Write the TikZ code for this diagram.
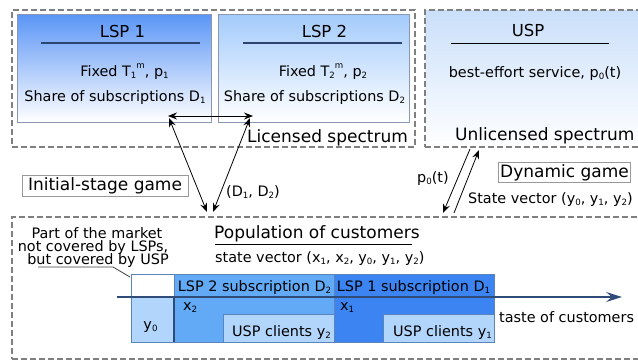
\documentclass[tikz,border=0pt]{standalone}
\usepackage{fontspec}
\setmainfont{DejaVu Sans}
\usetikzlibrary{arrows.meta}
\definecolor{dashgray}{HTML}{808080}
\definecolor{boxborder}{HTML}{8A96B2}
\definecolor{lspAtop}{HTML}{5A95F6}
\definecolor{lspBtop}{HTML}{A3CBFB}
\definecolor{usptop}{HTML}{CADFFA}
\definecolor{titleblue}{HTML}{2B4570}
\definecolor{barlight}{HTML}{B2D5FC}
\definecolor{barmid}{HTML}{62AAF6}
\definecolor{bardark}{HTML}{3C84F1}
\definecolor{barborder}{HTML}{5C84BC}
\definecolor{axisblue}{HTML}{2F4C78}
\definecolor{gamegray}{HTML}{999999}
\newcommand{\sbs}[1]{\raisebox{-0.35ex}{\scalebox{0.6}{#1}}}
\newcommand{\sps}[1]{\raisebox{0.95ex}{\scalebox{0.6}{#1}}}
\begin{document}
\begin{tikzpicture}[x=1pt,y=1pt,
  txs/.style={font=\fontsize{14.4}{16}\selectfont, inner sep=0pt},
  txl/.style={font=\fontsize{17}{20}\selectfont, inner sep=0pt},
  txt/.style={font=\fontsize{16.5}{19}\selectfont, inner sep=0pt},
  dashbox/.style={draw=dashgray, line width=1.5pt, dash pattern=on 6pt off 3pt, inner sep=0pt},
  lspbox/.style={draw=boxborder, line width=1pt, inner sep=0pt, bottom color=white},
  gamebox/.style={draw=gamegray, line width=1pt, inner sep=0pt},
  titleline/.style={draw=titleblue, line width=1.5pt},
  arr/.style={draw=black, line width=0.8pt},
  tip/.tip={Stealth[length=9pt,width=7pt,inset=3pt]},
  bar/.style={draw=barborder, line width=0.8pt}
]
\useasboundingbox (0,0) rectangle (638,-362);
\clip (0,0) rectangle (638,-362);

% dashed zones
\node[dashbox, minimum width=403pt, minimum height=137pt] (lic) at (213.5,-78.5) {};
\node[dashbox, top color=usptop, bottom color=white, minimum width=220pt, minimum height=137pt] (uspz) at (535,-78.5) {};
\node[dashbox, minimum width=633pt, minimum height=142pt] (pop) at (328.5,-288) {};

% LSP boxes
\node[lspbox, top color=lspAtop, minimum width=194pt, minimum height=108pt] (lsp1) at (114,-68) {};
\node[lspbox, top color=lspBtop, minimum width=191pt, minimum height=108pt] (lsp2) at (313.5,-68) {};

\node[txt, anchor=base] (l1t) at (122.5,-37) {LSP 1};
\draw[titleline] (41,-43) -- (200,-43);
\node[txs, anchor=base] (l1a) at (124.5,-76) {Fixed T\sbs{1}\sps{m}, p\sbs{1}};
\node[txs, anchor=base] (l1b) at (115,-101) {Share of subscriptions D\sbs{1}};

\node[txt, anchor=base] (l2t) at (324.5,-37) {LSP 2};
\draw[titleline] (243,-43) -- (402,-43);
\node[txs, anchor=base] (l2a) at (323,-76) {Fixed T\sbs{2}\sps{m}, p\sbs{2}};
\node[txs, anchor=base] (l2b) at (314.5,-101) {Share of subscriptions D\sbs{2}};

\node[txl, anchor=base west] (lict) at (247,-142.5) {Licensed spectrum};

% USP
\node[txt, anchor=base] (ut) at (528,-36.5) {USP};
\draw[black, line width=0.9pt] (451,-43) -- (609,-43);
\node[txs, anchor=base] (ua) at (535,-77) {best-effort service, p\sbs{0}(t)};
\node[txl, anchor=base west] (unl) at (455,-140) {Unlicensed spectrum};

% game boxes
\node[gamebox, minimum width=166pt, minimum height=21pt] (ig) at (105,-185.5) {};
\node[txl, anchor=base] (igt) at (105,-190) {Initial-stage game};
\node[gamebox, minimum width=132pt, minimum height=20pt] (dg) at (564,-172) {};
\node[txl, anchor=base] (dgt) at (564.5,-177) {Dynamic game};

% arrows (left)
\coordinate (hA) at (168,-116);
\coordinate (hB) at (253,-116);
\coordinate (aT) at (169,-118);
\coordinate (aB) at (207,-212);
\coordinate (bT) at (250,-118);
\coordinate (bB) at (213,-212);
\draw[arr, {tip}-{tip}] (hA) -- (hB);
\draw[arr, {tip}-{tip}] (aT) -- (aB);
\draw[arr, {tip}-{tip}] (bT) -- (bB);
\node[txs, anchor=base west] (dd) at (226,-196) {(D\sbs{1}, D\sbs{2})};

% arrows (right)
\coordinate (pA) at (470,-149);
\coordinate (pB) at (443,-213);
\coordinate (sA) at (454,-213);
\coordinate (sB) at (479,-150);
\draw[arr, -{tip}] (pA) -- (pB);
\draw[arr, -{tip}] (sA) -- (sB);
\node[txs, anchor=base west] (p0) at (417,-182) {p\sbs{0}(t)};
\node[txs, anchor=base west] (sv) at (468,-203) {State vector (y\sbs{0}, y\sbs{1}, y\sbs{2})};

% population
\node[txl, anchor=base west] (popt) at (214,-238) {Population of customers};
\draw[black, line width=1pt] (215,-244) -- (412,-244);
\node[txs, anchor=base west] (popv) at (215,-262) {state vector (x\sbs{1}, x\sbs{2}, y\sbs{0}, y\sbs{1}, y\sbs{2})};

\node[txs, anchor=base] (pm1) at (97,-238) {Part of the market};
\node[txs, anchor=base] (pm2) at (93,-251) {not covered by LSPs,};
\node[txs, anchor=base] (pm3) at (98,-264) {but covered by USP};
\coordinate (cA) at (38,-267);
\coordinate (cB) at (113,-267);
\coordinate (cC) at (130,-277);
\draw[draw=black!75, line width=0.8pt] (cA) -- (cB) -- (cC);

% bars
\path[bar, fill=barlight] (131,-297) rectangle (174,-342);
\path[bar, fill=barmid] (174,-297) rectangle (334,-342);
\path[bar, fill=bardark] (334,-297) rectangle (494,-342);
\path[bar, fill=barlight] (223,-314) rectangle (334,-342);
\path[bar, fill=barlight] (383,-314) rectangle (494,-342);
\path[bar, fill=white] (131,-274) rectangle (174,-297);
\path[bar, fill=barmid] (174,-274) rectangle (334,-297);
\path[bar, fill=bardark] (334,-274) rectangle (494,-297);

\coordinate (axA) at (117,-297);
\coordinate (axB) at (622,-297);
\draw[draw=axisblue, line width=1.8pt, -{Stealth[length=16pt,width=10pt,inset=6pt]}] (axA) -- (axB);
\draw[draw=axisblue, line width=1.5pt] (174,-297) -- (174,-342);

\node[txs, anchor=base] (h2) at (254.5,-291) {LSP 2 subscription D\sbs{2}};
\node[txs, anchor=base] (h1) at (413.5,-291) {LSP 1 subscription D\sbs{1}};
\node[txs, anchor=base west] (x2) at (183,-310) {x\sbs{2}};
\node[txs, anchor=base west] (x1) at (340,-310) {x\sbs{1}};
\node[txs, anchor=base] (y0) at (150.5,-329) {y\sbs{0}};
\node[txs, anchor=base west] (u2) at (232,-336) {USP clients y\sbs{2}};
\node[txs, anchor=base west] (u1) at (393,-336) {USP clients y\sbs{1}};
\node[txs, anchor=base west] (taste) at (499,-322) {taste of customers};
\end{tikzpicture}
\end{document}
